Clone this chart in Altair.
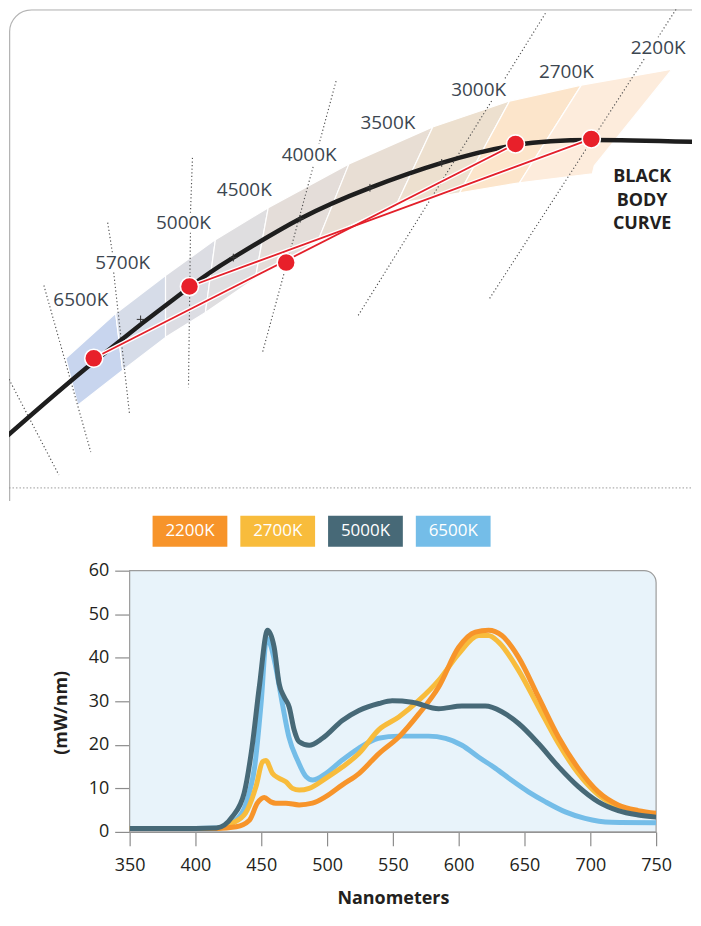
import altair as alt
import pandas as pd

# ---------------- top diagram: values (diagram units) ----------------
cct_labels = ["6500K", "5700K", "5000K", "4500K", "4000K", "3500K", "3000K", "2700K", "2200K"]
label_x = [80, 122, 183, 244, 309, 388, 479, 567, 659]
label_y = [300, 262, 222, 189, 154, 122, 89, 71, 47]

# ANSI bin quadrangles: upper and lower boundary points at each bin divider
upper_x = [65, 115, 165, 215, 268, 349, 433, 510, 582, 673]
upper_y = [358, 313, 275, 239, 207, 163, 126, 100, 84, 68]
lower_x = [77, 122, 165, 205, 255, 318, 397, 460, 520, 593]
lower_y = [405, 370, 337, 312, 278, 240, 203, 192, 182, 173]
notch_x, notch_y = 595, 165
quad_colors = ["#C8D5EE", "#D6DCE8", "#DCDDE3", "#DFDEE0", "#E4DDD9",
               "#E8DED4", "#EDE0CF", "#FCE5CB", "#FDECDC"]

# black body curve
bb_x = [5, 95, 190, 233, 300, 370, 442, 517, 593, 700]
bb_y = [437, 360, 286, 257, 218, 187, 162, 144, 139, 141]
cross_x = [140, 233, 300, 370, 442]
cross_y = [319, 257, 218, 187, 162]
bb_words = ["BLACK", "BODY", "CURVE"]
bb_word_y = [176, 200, 223]

# LED chromaticity points and mixing lines
dot_x = [93, 189, 286, 516, 592]
dot_y = [358, 286, 262, 143, 138]
mix_x1, mix_y1 = [93, 189], [358, 286]
mix_x2, mix_y2 = [516, 592], [143, 138]

# isotemperature (dotted) line segments
iso_x1 = [8, 43, 107, 113, 192, 190, 336, 313, 546, 492, 677, 645]
iso_y1 = [379, 285, 222, 272, 157, 232, 80, 166, 12, 100, 8, 58]
iso_x2 = [58, 90, 112, 129, 190, 188, 319, 262, 505, 357, 659, 490]
iso_y2 = [475, 452, 254, 415, 212, 387, 143, 353, 78, 317, 36, 298]

# ---------------- spectra ----------------
legend_names = ["2200K", "2700K", "5000K", "6500K"]
legend_colors = ["#F7942A", "#F8BC3C", "#476977", "#74BDE8"]

s2200_nm = [350, 400, 416, 431, 441, 447, 452.3, 457.3, 461, 468.7, 478.8, 488.9, 499, 511.6, 524.2,
            539.4, 554.5, 569.7, 584.8, 600, 612.6, 622.7, 632.8, 645.5, 660.6, 675.8, 690.9, 706.1,
            721.2, 736.4, 750]
s2200_val = [0.8, 0.8, 0.8, 1.2, 2.7, 6.6, 7.9, 6.9, 6.6, 6.6, 6.2, 6.6, 8.1, 10.8, 13.4,
             18, 21.8, 27.1, 33.3, 42.4, 45.9, 46.3, 45.1, 40.1, 31, 21.8, 14.6, 9.2,
             6.2, 4.9, 4.3]
s2700_nm = [350, 400, 416, 428, 438, 446, 451, 453.5, 458.6, 463.6, 468.7, 473.7, 478.8, 486.4, 499,
            511.6, 524.2, 539.4, 554.5, 569.7, 584.8, 600, 615.2, 622.7, 630.3, 645.5, 660.6, 675.8,
            690.9, 706.1, 721.2, 736.4, 750]
s2700_val = [0.8, 0.8, 0.8, 2, 4.3, 10.4, 16.1, 16.4, 13.4, 12.3, 11.5, 10, 9.6, 10, 12.3,
             14.9, 18, 23.5, 26.4, 30.2, 34.8, 40.9, 45.1, 45.1, 43.6, 37.1, 28.7, 20.3,
             13.4, 8.5, 5.8, 4.5, 4.1]
s5000_nm = [350, 400, 416, 428, 437, 443, 448.5, 454.8, 459.8, 463.6, 467.4, 471.2, 475, 478.8, 486.4,
            496.5, 511.6, 524.2, 539.4, 549.5, 564.6, 584.8, 602.5, 620.2, 632.8, 645.5, 660.6,
            675.8, 690.9, 706.1, 721.2, 736.4, 750]
s5000_val = [0.8, 0.8, 0.9, 3.5, 8.9, 19.5, 33.3, 46.3, 42.4, 34, 31, 28.7, 23.4, 20.7, 19.9,
             21.5, 25.6, 27.9, 29.5, 30.1, 29.8, 28.3, 28.9, 28.9, 27.6, 24.9, 20.3,
             15, 10.4, 6.9, 4.9, 3.9, 3.4]
s6500_nm = [350, 400, 418, 430, 440, 445, 450, 454, 457, 461, 466, 471, 477.5, 484, 489, 499, 511.6,
            524, 539, 554.5, 577, 590, 602.5, 615, 628, 640, 653, 666, 681, 696, 716, 750]
s6500_val = [0.8, 0.8, 0.9, 2.5, 8, 15, 30, 44.5, 43, 37.9, 29.5, 21.8, 16.5, 12.7, 11.9, 13.4, 16.5,
             19.2, 21.5, 22, 22, 21.5, 19.9, 17.2, 14.6, 11.9, 9.2, 6.9, 4.6, 3.1, 2.2, 2.1]

x_ticks = [350, 400, 450, 500, 550, 600, 650, 700, 750]
y_ticks = [0, 10, 20, 30, 40, 50, 60]

FONT = "Open Sans"
TXT = "#231F20"

# ================= top chart =================
tx = alt.Scale(domain=[8, 693], nice=False, zero=False)
ty = alt.Scale(domain=[8, 501], nice=False, zero=False, reverse=True)


def X(f):
    return alt.X(f, type="quantitative", scale=tx, axis=None)


def Y(f):
    return alt.Y(f, type="quantitative", scale=ty, axis=None)


rows = []
for i in range(9):
    pts = [(upper_x[i], upper_y[i]), (upper_x[i + 1], upper_y[i + 1])]
    if i == 8:
        pts.append((notch_x, notch_y))
    pts += [(lower_x[i + 1], lower_y[i + 1]), (lower_x[i], lower_y[i])]
    for k, (px, py) in enumerate(pts):
        rows.append({"q": i, "o": k, "x": px, "y": py, "c": quad_colors[i]})
quad_df = pd.DataFrame(rows)

frame = alt.Chart(pd.DataFrame({"a": [8.6], "b": [800], "c": [8.6], "d": [900]})).mark_rect(
    fill=None, stroke="#B4B4B4", strokeWidth=1.3, cornerRadius=22, clip=True
).encode(x=X("a"), x2="b", y=Y("c"), y2="d")

sep = alt.Chart(pd.DataFrame({"a": [8], "b": [693], "c": [488]})).mark_rule(
    color="#9A9A9A", strokeDash=[1.5, 2], strokeWidth=1
).encode(x=X("a"), x2="b", y=Y("c"))

quads = alt.Chart(quad_df).mark_line(
    interpolate="linear-closed", stroke="white", strokeWidth=1.2
).encode(x=X("x"), y=Y("y"), detail="q:N", order="o:Q", fill=alt.Fill("c:N", scale=None))

iso = alt.Chart(pd.DataFrame({"x1": iso_x1, "y1": iso_y1, "x2": iso_x2, "y2": iso_y2})).mark_rule(
    color="#505050", strokeDash=[1.2, 2.4], strokeWidth=1.15, clip=True
).encode(x=X("x1"), y=Y("y1"), x2="x2", y2="y2")

curve = alt.Chart(pd.DataFrame({"x": bb_x, "y": bb_y})).mark_line(
    color="#1E1E1E", strokeWidth=4.5, interpolate="natural", clip=True
).encode(x=X("x"), y=Y("y"))

crosses = alt.Chart(pd.DataFrame({"x": cross_x, "y": cross_y})).mark_point(
    shape="M-1,0H1M0,-1V1", size=60, filled=False, color="#333333", strokeWidth=1, opacity=1
).encode(x=X("x"), y=Y("y"))

mix_df = pd.DataFrame({"x1": mix_x1, "y1": mix_y1, "x2": mix_x2, "y2": mix_y2})
mix_halo = alt.Chart(mix_df).mark_rule(color="white", strokeWidth=4.5).encode(
    x=X("x1"), y=Y("y1"), x2="x2", y2="y2")
mix = alt.Chart(mix_df).mark_rule(color="#E3202A", strokeWidth=1.8).encode(
    x=X("x1"), y=Y("y1"), x2="x2", y2="y2")

dots = alt.Chart(pd.DataFrame({"x": dot_x, "y": dot_y})).mark_point(
    filled=True, size=330, fill="#E8202A", stroke="white", strokeWidth=1.6, opacity=1
).encode(x=X("x"), y=Y("y"))

labels = alt.Chart(pd.DataFrame({"x": label_x, "y": label_y, "t": cct_labels})).mark_text(
    font=FONT, fontSize=19, color="#3C4650", baseline="middle", align="center"
).encode(x=X("x"), y=Y("y"), text="t:N")

bb_label = alt.Chart(pd.DataFrame({"x": [643] * 3, "y": bb_word_y, "t": bb_words})).mark_text(
    font=FONT, fontSize=18, fontWeight="bold", color=TXT, baseline="middle", align="center"
).encode(x=X("x"), y=Y("y"), text="t:N")

top = alt.layer(frame, sep, quads, iso, curve, crosses, mix_halo, mix, dots, labels, bb_label).properties(
    width=685, height=493)

# ================= legend =================
leg_df = pd.DataFrame({"name": legend_names, "col": legend_colors})
leg_base = alt.Chart(leg_df).encode(
    x=alt.X("name:N", sort=legend_names, axis=None,
            scale=alt.Scale(paddingInner=0.148, paddingOuter=0)))
leg = alt.layer(
    leg_base.mark_rect().encode(color=alt.Color("col:N", scale=None)),
    leg_base.mark_text(color="white", font=FONT, fontSize=17, fontWeight=500).encode(text="name:N"),
).properties(width=339, height=31)

sp1 = alt.Chart(pd.DataFrame({"s": [0]})).mark_point(opacity=0).properties(width=144, height=31)

# ================= spectral chart =================
xs = alt.Scale(domain=[350, 750], nice=False, zero=False)
ys = alt.Scale(domain=[0, 60], nice=False)
xaxis = alt.Axis(values=x_ticks, title="Nanometers", tickSize=14, labelPadding=11, titlePadding=15,
                 labelFlush=False, domainColor="#8C8C8C", tickColor="#8C8C8C", grid=False,
                 labelFontSize=18, titleFontSize=18, titleFontWeight="bold", labelFont=FONT,
                 titleFont=FONT, labelColor=TXT, titleColor=TXT, domainWidth=1.2, tickWidth=1.2)
yaxis = alt.Axis(values=y_ticks, title="(mW/nm)", tickSize=15, labelPadding=6, titlePadding=18,
                 labelFlush=False, domainColor="#8C8C8C", tickColor="#8C8C8C", grid=False,
                 labelFontSize=18, titleFontSize=18, titleFontWeight="bold", labelFont=FONT,
                 titleFont=FONT, labelColor=TXT, titleColor=TXT, domainWidth=1.2, tickWidth=1.2,
                 titleY=142)


def SX(f):
    return alt.X(f, type="quantitative", scale=xs, axis=xaxis, title="Nanometers")


def SY(f):
    return alt.Y(f, type="quantitative", scale=ys, axis=yaxis, title="(mW/nm)")


bg = alt.Chart(pd.DataFrame({"x0": [350], "x1": [750], "y0": [0], "y1": [60]})).mark_rect(
    fill="#E8F3FA", stroke="#9C9C9C", strokeWidth=1.2, cornerRadiusTopRight=12
).encode(x=SX("x0"), x2="x1", y=SY("y0"), y2="y1")


def spec(nm, val, col):
    return alt.Chart(pd.DataFrame({"nm": nm, "v": val})).mark_line(
        color=col, strokeWidth=5, interpolate="monotone", clip=True
    ).encode(x=SX("nm"), y=SY("v"))


spectral = alt.layer(
    bg,
    spec(s6500_nm, s6500_val, legend_colors[3]),
    spec(s2700_nm, s2700_val, legend_colors[1]),
    spec(s2200_nm, s2200_val, legend_colors[0]),
    spec(s5000_nm, s5000_val, legend_colors[2]),
).properties(width=528, height=262)

sp2 = alt.Chart(pd.DataFrame({"s": [0]})).mark_point(opacity=0).properties(width=43, height=262)

chart = alt.vconcat(
    top,
    alt.hconcat(sp1, leg, spacing=0),
    alt.hconcat(sp2, spectral, spacing=0),
    spacing=15,
).configure_view(stroke=None).properties(padding=0)

chart.save("out.html", embed_options={"renderer": "svg", "actions": False})
